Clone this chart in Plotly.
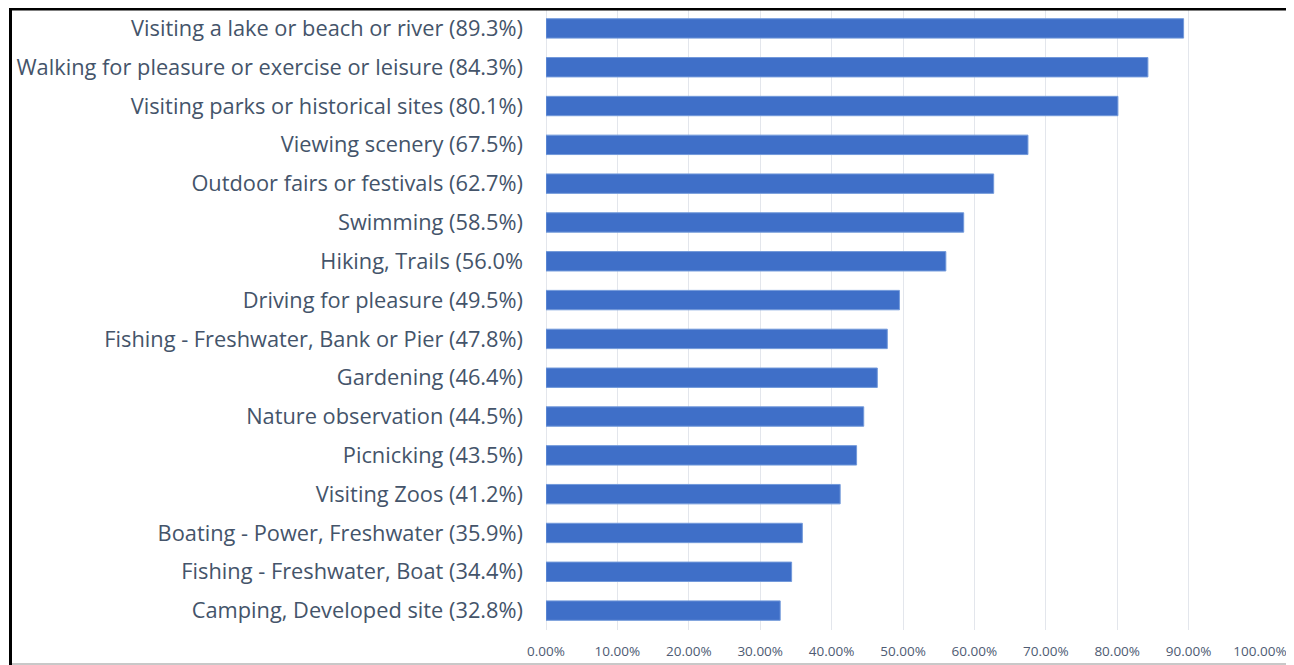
import plotly.graph_objects as go

categories = [
    "Visiting a lake or beach or river (89.3%)",
    "Walking for pleasure or exercise or leisure (84.3%)",
    "Visiting parks or historical sites (80.1%)",
    "Viewing scenery (67.5%)",
    "Outdoor fairs or festivals (62.7%)",
    "Swimming (58.5%)",
    "Hiking, Trails (56.0%",
    "Driving for pleasure (49.5%)",
    "Fishing - Freshwater, Bank or Pier (47.8%)",
    "Gardening (46.4%)",
    "Nature observation (44.5%)",
    "Picnicking (43.5%)",
    "Visiting Zoos (41.2%)",
    "Boating - Power, Freshwater (35.9%)",
    "Fishing - Freshwater, Boat (34.4%)",
    "Camping, Developed site (32.8%)",
]
values = [0.893, 0.843, 0.801, 0.675, 0.627, 0.585, 0.560, 0.495, 0.478,
          0.464, 0.445, 0.435, 0.412, 0.359, 0.344, 0.328]
tick_values = [i / 10 for i in range(11)]

# page body has an 8px margin; layout is expressed in figure pixels
OFF = 8
W, H = 1294 - OFF, 665 - OFF
L = 546 - OFF
T = 9 - OFF
plot_right = 1260 - OFF
plot_bottom = 630 - OFF
R = W - plot_right
B = H - plot_bottom
pw = plot_right - L
ph = plot_bottom - T


def px_x(px):
    return (px - L) / pw


def px_y(py):
    return (plot_bottom - py) / ph


fig = go.Figure(go.Bar(
    x=values,
    y=categories,
    orientation="h",
    width=0.5,
    marker=dict(color="#3F6FC8", line=dict(color="#7299DA", width=1)),
    hoverinfo="x+y",
))

fig.update_layout(
    width=W, height=H,
    margin=dict(l=L, r=R, t=T, b=B, pad=0),
    paper_bgcolor="white",
    plot_bgcolor="white",
    showlegend=False,
    bargap=0.5,
    xaxis=dict(
        range=[0, 1.0],
        tickvals=tick_values,
        tickformat=".2%",
        showgrid=True,
        gridcolor="#E3E6EC",
        gridwidth=1,
        zeroline=True,
        zerolinecolor="#E3E6EC",
        zerolinewidth=1,
        showline=False,
        ticks="",
        ticklabelstandoff=11,
        tickfont=dict(family="Open Sans, sans-serif", size=13.5, color="#4E5B73"),
        fixedrange=True,
    ),
    yaxis=dict(
        autorange="reversed",
        categoryorder="array",
        categoryarray=categories,
        showgrid=False,
        showline=False,
        ticks="",
        ticklabelstandoff=22,
        tickfont=dict(family="Open Sans, sans-serif", size=21.8, color="#44546A"),
        fixedrange=True,
    ),
    shapes=[
        dict(type="line", xref="paper", yref="paper",
             x0=px_x(10 - OFF), x1=px_x(1291 - OFF),
             y0=px_y(656), y1=px_y(656),
             line=dict(color="#C8C8C8", width=2), layer="above"),
        dict(type="line", xref="paper", yref="paper",
             x0=px_x(10.5 - OFF), x1=px_x(10.5 - OFF),
             y0=px_y(-2), y1=px_y(H + 2),
             line=dict(color="black", width=3), layer="above"),
        dict(type="line", xref="paper", yref="paper",
             x0=px_x(1291.5 - OFF), x1=px_x(1291.5 - OFF),
             y0=px_y(-2), y1=px_y(H + 2),
             line=dict(color="black", width=3), layer="above"),
        dict(type="line", xref="paper", yref="paper",
             x0=px_x(9 - OFF), x1=px_x(1293 - OFF),
             y0=px_y(0.5), y1=px_y(0.5),
             line=dict(color="black", width=4), layer="above"),
    ],
)

fig.write_html("out.html")
